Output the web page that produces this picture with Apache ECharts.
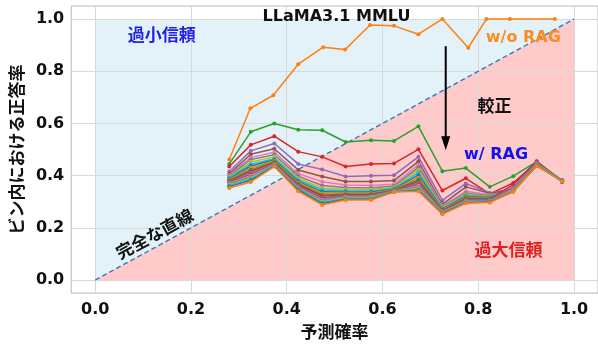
<!DOCTYPE html>
<html>
<head>
<meta charset="utf-8">
<script src="https://cdn.jsdelivr.net/npm/echarts@6/dist/echarts.min.js"></script>
<style>
  html, body { margin: 0; padding: 0; background: #fff; }
  #chart { width: 598px; height: 345px; }
</style>
</head>
<body>
<div id="chart"></div>
<script>
// Axis ticks
const tickValues = [0, 0.2, 0.4, 0.6, 0.8, 1.0];

// Mean predicted probability per bin (retrieval-augmented runs)
const binX = [0.28, 0.325, 0.374, 0.424, 0.474, 0.523, 0.576, 0.624, 0.675, 0.725, 0.774, 0.824, 0.873, 0.922, 0.975];

// Baseline without retrieval
const noRagX = [0.28, 0.324, 0.372, 0.424, 0.476, 0.522, 0.574, 0.624, 0.675, 0.725, 0.779, 0.817, 0.866, 0.96];
const noRagY = [0.462, 0.658, 0.708, 0.827, 0.892, 0.883, 0.977, 0.974, 0.942, 1.0, 0.89, 1.0, 1.0, 1.0];

// Accuracy per bin for each retrieval-augmented run
const rag01 = [0.445, 0.568, 0.600, 0.576, 0.574, 0.529, 0.536, 0.533, 0.589, 0.417, 0.429, 0.357, 0.398, 0.454, 0.382];
const rag02 = [0.435, 0.518, 0.551, 0.492, 0.472, 0.435, 0.445, 0.447, 0.501, 0.343, 0.390, 0.330, 0.372, 0.452, 0.377];
const rag03 = [0.416, 0.495, 0.523, 0.445, 0.424, 0.397, 0.400, 0.402, 0.472, 0.305, 0.370, 0.334, 0.350, 0.448, 0.380];
const rag04 = [0.407, 0.482, 0.503, 0.422, 0.397, 0.378, 0.378, 0.381, 0.455, 0.290, 0.357, 0.332, 0.345, 0.446, 0.381];
const rag05 = [0.402, 0.470, 0.490, 0.407, 0.377, 0.364, 0.362, 0.367, 0.442, 0.284, 0.340, 0.327, 0.342, 0.445, 0.379];
const rag06 = [0.398, 0.462, 0.480, 0.398, 0.362, 0.355, 0.353, 0.360, 0.432, 0.280, 0.333, 0.323, 0.350, 0.444, 0.380];
const rag07 = [0.395, 0.452, 0.472, 0.390, 0.352, 0.348, 0.347, 0.355, 0.422, 0.277, 0.328, 0.320, 0.347, 0.443, 0.378];
const rag08 = [0.392, 0.444, 0.465, 0.384, 0.345, 0.342, 0.341, 0.351, 0.412, 0.274, 0.324, 0.318, 0.345, 0.442, 0.381];
const rag09 = [0.388, 0.437, 0.460, 0.378, 0.338, 0.337, 0.337, 0.348, 0.402, 0.272, 0.320, 0.316, 0.343, 0.438, 0.379];
const rag10 = [0.385, 0.430, 0.456, 0.373, 0.332, 0.333, 0.333, 0.346, 0.392, 0.270, 0.317, 0.314, 0.341, 0.436, 0.380];
const rag11 = [0.382, 0.423, 0.452, 0.369, 0.326, 0.329, 0.330, 0.344, 0.385, 0.268, 0.314, 0.312, 0.345, 0.444, 0.378];
const rag12 = [0.379, 0.417, 0.449, 0.365, 0.321, 0.326, 0.327, 0.343, 0.378, 0.266, 0.311, 0.310, 0.366, 0.455, 0.376];
const rag13 = [0.377, 0.411, 0.447, 0.361, 0.316, 0.323, 0.324, 0.342, 0.372, 0.264, 0.308, 0.308, 0.356, 0.450, 0.379];
const rag14 = [0.374, 0.405, 0.445, 0.358, 0.312, 0.320, 0.321, 0.341, 0.366, 0.262, 0.305, 0.306, 0.352, 0.447, 0.380];
const rag15 = [0.371, 0.400, 0.443, 0.355, 0.308, 0.318, 0.319, 0.340, 0.361, 0.261, 0.303, 0.304, 0.348, 0.445, 0.381];
const rag16 = [0.368, 0.395, 0.441, 0.352, 0.304, 0.316, 0.317, 0.340, 0.356, 0.259, 0.301, 0.303, 0.344, 0.444, 0.379];
const rag17 = [0.365, 0.390, 0.440, 0.350, 0.300, 0.314, 0.315, 0.339, 0.352, 0.258, 0.299, 0.301, 0.342, 0.443, 0.380];
const rag18 = [0.362, 0.386, 0.438, 0.348, 0.297, 0.312, 0.312, 0.339, 0.348, 0.256, 0.297, 0.300, 0.340, 0.442, 0.378];
const rag19 = [0.358, 0.382, 0.437, 0.346, 0.293, 0.310, 0.310, 0.338, 0.344, 0.255, 0.296, 0.299, 0.339, 0.440, 0.381];
const rag20 = [0.353, 0.376, 0.435, 0.340, 0.288, 0.307, 0.307, 0.337, 0.340, 0.252, 0.294, 0.297, 0.338, 0.438, 0.379];

const ragRuns = [rag01, rag02, rag03, rag04, rag05, rag06, rag07, rag08, rag09, rag10,
                 rag11, rag12, rag13, rag14, rag15, rag16, rag17, rag18, rag19, rag20];

const palette = ['#1f77b4', '#ff7f0e', '#2ca02c', '#d62728', '#9467bd',
                 '#8c564b', '#e377c2', '#7f7f7f', '#bcbd22', '#17becf'];

const jpFont = '"Noto Sans CJK JP", sans-serif';
const numFont = '"DejaVu Sans", sans-serif';

const chart = echarts.init(document.getElementById('chart'), null, { renderer: 'canvas' });

function pairs(xs, ys) { return xs.map((x, i) => [x, ys[i]]); }

// Shaded regions: under-confidence above the diagonal, over-confidence below it
function triangleSeries(points, color) {
  return {
    type: 'custom',
    silent: true,
    z: 0,
    data: [0],
    renderItem: function (params, api) {
      return {
        type: 'polygon',
        shape: { points: points.map(p => api.coord(p)) },
        style: { fill: color }
      };
    }
  };
}

const series = [
  triangleSeries([[0, 0], [0, 1], [1, 1]], '#e3f1f8'),
  triangleSeries([[0, 0], [1, 0], [1, 1]], '#ffcaca'),
  {
    type: 'line',
    data: [[0, 0], [1, 1]],
    showSymbol: false,
    silent: true,
    z: 3,
    lineStyle: { color: '#2f7bbf', width: 1.4, type: [5, 3] }
  },
  {
    type: 'line',
    name: 'w/o RAG',
    data: pairs(noRagX, noRagY),
    symbol: 'circle',
    symbolSize: 4,
    z: 4,
    itemStyle: { color: palette[1] },
    lineStyle: { color: palette[1], width: 1.5 }
  }
];

ragRuns.forEach((ys, i) => {
  const c = palette[(i + 2) % 10];
  series.push({
    type: 'line',
    data: pairs(binX, ys),
    symbol: 'circle',
    symbolSize: 4,
    z: 5 + i,
    itemStyle: { color: c },
    lineStyle: { color: c, width: 1.5 }
  });
});

const tickLabel = { fontFamily: numFont, fontWeight: 'bold', fontSize: 16, color: '#111' };

chart.setOption({
  animation: false,
  grid: { left: 70, top: 6, width: 530, height: 292.6, show: true, borderColor: '#b8b8b8', borderWidth: 1, backgroundColor: '#fff' },
  xAxis: {
    type: 'value', min: -0.05, max: 1.05, z: 1,
    axisLine: { show: false }, axisTick: { show: false, customValues: tickValues },
    axisLabel: Object.assign({ customValues: tickValues, margin: 9, formatter: v => v.toFixed(1) }, tickLabel),
    splitLine: { show: true, lineStyle: { color: '#d8d8d8', width: 1 } },
    name: '予測確率', nameLocation: 'middle', nameGap: 29,
    nameTextStyle: { fontFamily: jpFont, fontWeight: 'bold', fontSize: 17, color: '#111' }
  },
  yAxis: {
    type: 'value', min: -0.05, max: 1.05, z: 1,
    axisLine: { show: false }, axisTick: { show: false, customValues: tickValues },
    axisLabel: Object.assign({ customValues: tickValues, margin: 7, formatter: v => v.toFixed(1) }, tickLabel),
    splitLine: { show: true, lineStyle: { color: '#d8d8d8', width: 1 } },
    name: 'ビン内における正答率', nameLocation: 'middle', nameGap: 37,
    nameTextStyle: { fontFamily: jpFont, fontWeight: 'bold', fontSize: 17, color: '#111' }
  },
  series: series
});

// Annotations placed in data coordinates
function px(x, y) { return chart.convertToPixel({ gridIndex: 0 }, [x, y]); }

function textAt(x, y, text, color, size, font, rotation) {
  const p = px(x, y);
  return {
    type: 'text', x: p[0], y: p[1], rotation: rotation || 0, z: 100,
    style: { text: text, fill: color, font: 'bold ' + size + 'px ' + font, align: 'center', verticalAlign: 'middle' }
  };
}

const arrowTop = px(0.732, 0.896);
const arrowTip = px(0.732, 0.497);
const diagAngle = Math.atan2(px(0, 0)[1] - px(1, 1)[1], px(1, 1)[0] - px(0, 0)[0]);

chart.setOption({
  graphic: [
    textAt(0.504, 1.008, 'LLaMA3.1 MMLU', '#111', 16, numFont),
    textAt(0.894, 0.929, 'w/o RAG', '#ff8a1f', 16, numFont),
    textAt(0.834, 0.669, '較正', '#111', 17, jpFont),
    textAt(0.837, 0.481, 'w/ RAG', '#1010f0', 16, numFont),
    textAt(0.139, 0.94, '過小信頼', '#2020e8', 17, jpFont),
    textAt(0.863, 0.117, '過大信頼', '#e02020', 17, jpFont),
    textAt(0.124, 0.177, '完全な直線', '#111', 17, jpFont, diagAngle),
    {
      type: 'line', z: 100,
      shape: { x1: arrowTop[0], y1: arrowTop[1], x2: arrowTip[0], y2: arrowTip[1] - 10 },
      style: { stroke: '#000', lineWidth: 2 }
    },
    {
      type: 'polygon', z: 100,
      shape: { points: [[arrowTip[0] - 4.5, arrowTip[1] - 14], [arrowTip[0] + 4.5, arrowTip[1] - 14], [arrowTip[0], arrowTip[1]]] },
      style: { fill: '#000' }
    }
  ]
});
</script>
</body>
</html>
